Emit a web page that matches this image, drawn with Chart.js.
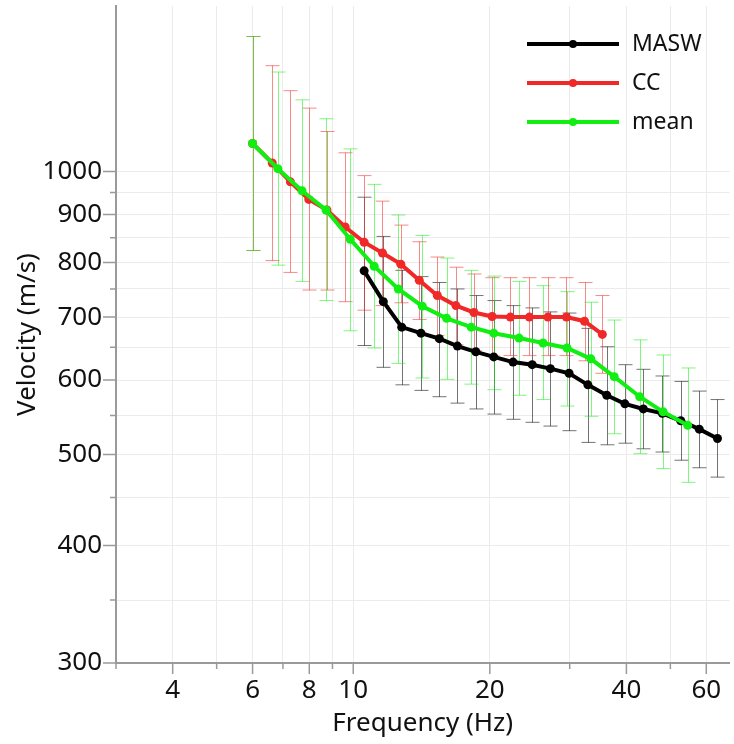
<!DOCTYPE html>
<html>
<head>
<meta charset="utf-8">
<script src="https://cdn.jsdelivr.net/npm/chart.js@4/dist/chart.umd.min.js"></script>
<style>
  html, body { margin: 0; padding: 0; background: #fff; }
  #wrap { width: 734px; height: 744px; }
</style>
</head>
<body>
<div id="wrap"><canvas id="myChart" width="734" height="744"></canvas></div>
<script>
// MASW
var maswFreq = [10.57, 11.65, 12.79, 14.1, 15.48, 16.97, 18.63, 20.4, 22.5, 24.8, 27.2, 29.9, 32.9, 36.2, 39.7, 43.6, 48.0, 52.7, 57.9, 63.5];
var maswVel  = [784, 727, 683, 673, 664, 652, 643, 635, 627, 623, 617, 610, 593, 578, 566, 559, 553, 543, 532, 520];
var maswHi   = [939, 853, 785, 773, 762, 750, 738, 729, 720, 716, 709, 707, 681, 651, 623, 616, 606, 598, 584, 572];
var maswLo   = [653, 619, 593, 585, 576, 567, 559, 552, 545, 541, 536, 530, 515, 512, 514, 507, 503, 493, 484, 473];

// CC
var ccFreq = [6.0, 6.63, 7.27, 7.98, 8.75, 9.6, 10.57, 11.6, 12.73, 13.98, 15.32, 16.84, 18.45, 20.23, 22.2, 24.45, 26.86, 29.5, 32.34, 35.4];
var ccVel  = [1071, 1021, 975, 934, 910, 873, 841, 819, 797, 766, 738, 720, 708, 701, 700, 700, 700, 700, 693, 671];
var ccHi   = [1392, 1296, 1219, 1168, 1103, 1047, 990, 930, 877, 842, 811, 791, 778, 771, 771, 771, 771, 771, 762, 738];
var ccLo   = [824, 804, 781, 748, 748, 727, 712, 720, 725, 696, 669, 654, 645, 637, 637, 637, 637, 637, 629, 610];

// mean
var meanFreq = [6.0, 6.82, 7.71, 8.71, 9.85, 11.12, 12.57, 14.2, 16.06, 18.2, 20.4, 23.2, 26.2, 29.6, 33.4, 37.6, 42.8, 48.2, 54.6];
var meanVel  = [1071, 1007, 954, 910, 847, 793, 750, 719, 698, 683, 673, 665, 657, 649, 632, 605, 576, 555, 537];
var meanHi   = [1392, 1276, 1192, 1138, 1057, 969, 899, 855, 809, 785, 774, 764, 756, 745, 726, 695, 662, 638, 618];
var meanLo   = [824, 795, 764, 729, 677, 649, 625, 603, 601, 594, 586, 578, 572, 563, 549, 526, 501, 483, 467];

// axes
var xTicks = [3, 4, 5, 6, 7, 8, 9, 10, 20, 30, 40, 50, 60];
var xLabels = [4, 6, 8, 10, 20, 40, 60];
var yTicks = [300, 350, 400, 450, 500, 550, 600, 650, 700, 750, 800, 850, 900, 950, 1000];
var yLabels = [300, 400, 500, 600, 700, 800, 900, 1000];

var FONT = "'Noto Sans', 'Open Sans', sans-serif";
var axisColor = '#9a9a9a';

function pts(xs, ys) {
    return xs.map(function (x, i) { return {x: x, y: ys[i]}; });
}

var series = [
    {label: 'MASW', color: '#000000', bar: 'rgba(0,0,0,0.55)', x: maswFreq, y: maswVel, lo: maswLo, hi: maswHi, order: 3},
    {label: 'CC', color: 'rgb(240,40,40)', bar: 'rgba(240,40,40,0.55)', x: ccFreq, y: ccVel, lo: ccLo, hi: ccHi, order: 2},
    {label: 'mean', color: 'rgb(17,238,17)', bar: 'rgba(0,240,0,0.5)', x: meanFreq, y: meanVel, lo: meanLo, hi: meanHi, order: 1}
];

var errorBars = {
    id: 'errorBars',
    beforeDatasetsDraw: function (chart) {
        var ctx = chart.ctx, xs = chart.scales.x, ys = chart.scales.y;
        ctx.save();
        ctx.lineWidth = 1;
        series.forEach(function (s) {
            ctx.strokeStyle = s.bar;
            s.x.forEach(function (f, i) {
                var px = Math.round(xs.getPixelForValue(f)) + 0.5;
                var top = ys.getPixelForValue(s.hi[i]);
                var bot = ys.getPixelForValue(s.lo[i]);
                ctx.beginPath();
                ctx.moveTo(px, top); ctx.lineTo(px, bot);
                ctx.moveTo(px - 7, top); ctx.lineTo(px + 7, top);
                ctx.moveTo(px - 7, bot); ctx.lineTo(px + 7, bot);
                ctx.stroke();
            });
        });
        ctx.restore();
    }
};

var tickMarks = {
    id: 'tickMarks',
    afterDraw: function (chart) {
        var ctx = chart.ctx, xs = chart.scales.x, ys = chart.scales.y, a = chart.chartArea;
        ctx.save();
        ctx.strokeStyle = axisColor;
        ctx.lineWidth = 1.5;
        ctx.beginPath();
        xTicks.forEach(function (v) {
            var px = xs.getPixelForValue(v);
            var len = xLabels.indexOf(v) >= 0 ? 11 : 6;
            ctx.moveTo(px, a.bottom); ctx.lineTo(px, a.bottom + len);
        });
        yTicks.forEach(function (v) {
            var py = ys.getPixelForValue(v);
            var len = yLabels.indexOf(v) >= 0 ? 13 : 6;
            ctx.moveTo(a.left, py); ctx.lineTo(a.left - len, py);
        });
        ctx.stroke();

        // legend
        ctx.font = '23px ' + FONT;
        ctx.textBaseline = 'middle';
        series.forEach(function (s, i) {
            var yy = 44 + i * 39;
            ctx.strokeStyle = s.color;
            ctx.fillStyle = s.color;
            ctx.lineWidth = 4;
            ctx.beginPath();
            ctx.moveTo(527, yy); ctx.lineTo(619, yy);
            ctx.stroke();
            ctx.beginPath();
            ctx.arc(573, yy, 4, 0, Math.PI * 2);
            ctx.fill();
            ctx.fillStyle = '#111';
            ctx.fillText(s.label, 632, yy);
        });
        ctx.restore();
    }
};

var context = document.getElementById('myChart').getContext('2d');

new Chart(context, {
    type: 'scatter',
    data: {
        datasets: series.map(function (s) {
            return {
                label: s.label,
                data: pts(s.x, s.y),
                showLine: true,
                borderColor: s.color,
                backgroundColor: s.color,
                borderWidth: 4,
                pointRadius: 4.5,
                pointBorderWidth: 0,
                order: s.order
            };
        })
    },
    options: {
        responsive: false,
        animation: false,
        layout: {padding: {top: 6, right: 0, left: 0, bottom: 0}},
        plugins: {legend: {display: false}, tooltip: {enabled: false}},
        scales: {
            x: {
                type: 'logarithmic',
                min: 3,
                max: 67.5,
                afterBuildTicks: function (scale) {
                    scale.ticks = xTicks.map(function (v) { return {value: v}; });
                },
                afterFit: function (scale) {
                    scale.height = 81;
                    scale.paddingLeft = 0;
                    scale.paddingRight = 0;
                },
                ticks: {
                    autoSkip: false,
                    maxRotation: 0,
                    padding: 12,
                    color: '#111',
                    font: {family: FONT, size: 26},
                    callback: function (v) { return xLabels.indexOf(v) >= 0 ? String(v) : ''; }
                },
                grid: {color: '#ebebeb', drawTicks: false},
                border: {color: axisColor, width: 2},
                title: {display: true, text: 'Frequency (Hz)', color: '#111', font: {family: FONT, size: 26}, padding: {top: 0, bottom: 5}}
            },
            y: {
                type: 'logarithmic',
                min: 300,
                max: 1500,
                afterBuildTicks: function (scale) {
                    scale.ticks = yTicks.map(function (v) { return {value: v}; });
                },
                afterFit: function (scale) {
                    scale.width = 116;
                    scale.paddingTop = 0;
                    scale.paddingBottom = 0;
                },
                ticks: {
                    autoSkip: false,
                    padding: 14,
                    color: '#111',
                    font: {family: FONT, size: 26},
                    callback: function (v) { return yLabels.indexOf(v) >= 0 ? String(v) : ''; }
                },
                grid: {color: '#ebebeb', drawTicks: false},
                border: {color: axisColor, width: 2},
                title: {display: true, text: 'Velocity (m/s)', color: '#111', font: {family: FONT, size: 26}, padding: {top: 12, bottom: 0}}
            }
        }
    },
    plugins: [errorBars, tickMarks]
});
</script>
</body>
</html>
